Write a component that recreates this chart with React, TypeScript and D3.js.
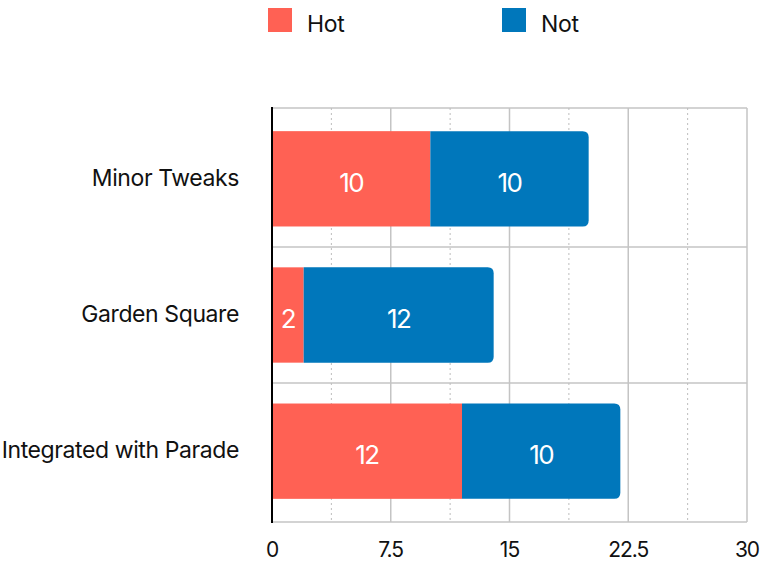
import React from "react";
import * as d3 from "d3";

const categories = ["Minor Tweaks", "Garden Square", "Integrated with Parade"];
const hotValues = [10, 2, 12];
const notValues = [10, 12, 10];
const seriesNames = ["Hot", "Not"];
const seriesColors = ["#FF6154", "#0077BB"];
const xTicks = [0, 7.5, 15, 22.5, 30];
const xMinorTicks = [3.75, 11.25, 18.75, 26.25];

const W = 778;
const H = 574;
const margin = { left: 272, right: 31, top: 108, bottom: 52 };
const FONT = "Inter, 'Noto Sans', sans-serif";

function roundRightRect(x: number, y: number, w: number, h: number, r: number) {
  const rr = Math.min(r, w / 2, h / 2);
  return `M${x},${y}H${x + w - rr}Q${x + w},${y} ${x + w},${y + rr}V${y + h - rr}Q${x + w},${y + h} ${x + w - rr},${y + h}H${x}Z`;
}

export default function App() {
  const x = d3.scaleLinear().domain([0, 30]).range([margin.left, W - margin.right]);
  const y = d3
    .scaleBand<string>()
    .domain(categories)
    .range([margin.top, H - margin.bottom])
    .paddingInner(0.3)
    .paddingOuter(0.17)
    .align(0.5);
  const data = categories.map((c, i) => ({ cat: c, hot: hotValues[i], not: notValues[i] }));
  const stack = d3.stack<any>().keys(["hot", "not"])(data);
  const gap = y.step() - y.bandwidth();
  const bandEdges = [margin.top];
  categories.slice(0, -1).forEach((c) => bandEdges.push((y(c) as number) + y.bandwidth() + gap / 2));
  bandEdges.push(H - margin.bottom);

  return (
    <svg width={W} height={H} style={{ position: "absolute", left: 0, top: 0 }} fontFamily={FONT}>
      {/* legend */}
      {seriesNames.map((s, i) => (
        <g key={s} transform={`translate(${268 + i * 234},8)`}>
          <rect width={24} height={24} fill={seriesColors[i]} />
          <text x={39} y={23.5} fontSize={23} fill="#111" letterSpacing={-0.3}>
            {s}
          </text>
        </g>
      ))}
      {/* horizontal grid */}
      {bandEdges.map((e, i) => (
        <line key={i} x1={margin.left} x2={W - margin.right} y1={e} y2={e} stroke="#c4c4c4" strokeWidth={1.5} />
      ))}
      {/* vertical minor grid */}
      {xMinorTicks.map((t) => (
        <line key={t} x1={x(t)} x2={x(t)} y1={margin.top} y2={H - margin.bottom} stroke="#bdbdbd" strokeWidth={1} strokeDasharray="2,3" />
      ))}
      {xTicks.slice(1).map((t) => (
        <line key={t} x1={x(t)} x2={x(t)} y1={margin.top} y2={H - margin.bottom} stroke="#c4c4c4" strokeWidth={1.5} />
      ))}
      {/* bars */}
      {stack.map((layer, si) =>
        layer.map((d, i) => {
          const x0 = x(d[0]);
          const x1 = x(d[1]);
          const yy = y(categories[i]) as number;
          const h = y.bandwidth();
          const val = d[1] - d[0];
          return (
            <g key={`${si}-${i}`}>
              {si === stack.length - 1 ? (
                <path d={roundRightRect(x0, yy, x1 - x0, h, 6)} fill={seriesColors[si]} />
              ) : (
                <rect x={x0} y={yy} width={x1 - x0} height={h} fill={seriesColors[si]} />
              )}
              <text
                x={(x0 + x1) / 2}
                y={yy + h / 2 + 3.5}
                dy="0.36em"
                textAnchor="middle"
                fill="#fff"
                fontSize={26}
                letterSpacing={-1.5}
              >
                {val}
              </text>
            </g>
          );
        })
      )}
      {/* y axis line */}
      <line x1={margin.left} x2={margin.left} y1={margin.top - 1} y2={H - margin.bottom + 1} stroke="#000" strokeWidth={2} />
      {/* category labels */}
      {categories.map((c) => (
        <text
          key={c}
          x={margin.left - 33}
          y={(y(c) as number) + y.bandwidth() / 2 - 1}
          dy="0.36em"
          textAnchor="end"
          fontSize={23}
          fill="#111"
          letterSpacing={-0.4}
        >
          {c}
        </text>
      ))}
      {/* x tick labels */}
      {xTicks.map((t) => (
        <text key={t} x={x(t)} y={557} textAnchor="middle" fontSize={21} fill="#111" letterSpacing={-1}>
          {String(t)}
        </text>
      ))}
    </svg>
  );
}
